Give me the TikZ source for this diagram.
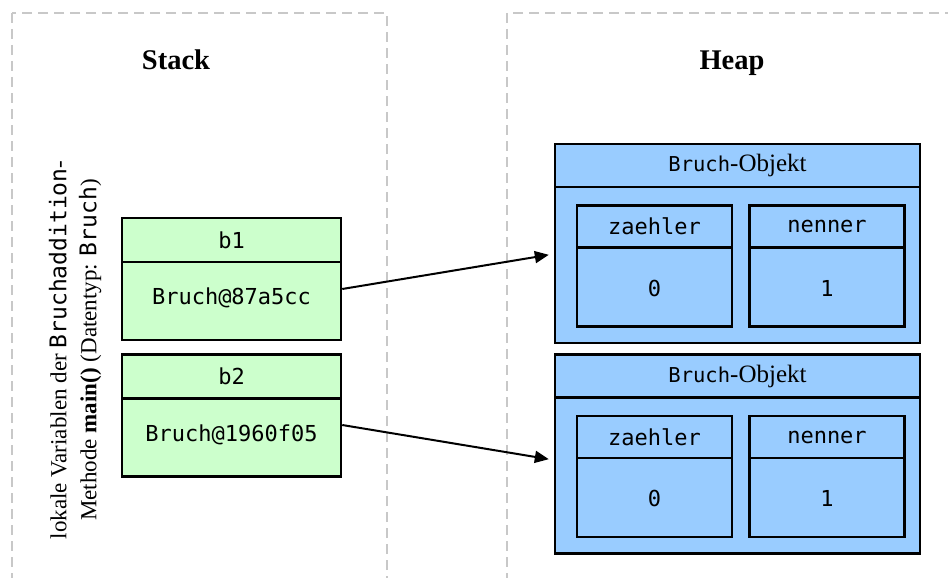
\documentclass[tikz,border=0pt]{standalone}
\usepackage{fontspec}
\setmainfont{Liberation Serif}
\setmonofont{DejaVu Sans Mono}
\usetikzlibrary{arrows.meta,positioning,calc}
\definecolor{stgreen}{HTML}{CCFFCC}
\definecolor{hpblue}{HTML}{99CCFF}
\definecolor{dashgray}{HTML}{C8C8C8}

\begin{document}
\begin{tikzpicture}[x=1pt,y=-1pt,>={Triangle[length=14pt,width=12pt]},
  cell/.style={draw=black,line width=2.5pt,inner sep=0pt},
  region/.style={draw=dashgray,line width=1.5pt,dash pattern=on 10pt off 6pt},
  txt/.style={font=\fontsize{22}{26}\selectfont},
  title/.style={font=\fontsize{28.5}{34}\selectfont\bfseries,anchor=base}]
\useasboundingbox (0,0) rectangle (948,578);
% memory regions
\draw[region] (12,13) rectangle (387,600);
\draw[region] (507,13) rectangle (960,600);
\node[title] (stacktitle) at (176,70) {Stack};
\node[title] (heaptitle) at (732,70) {Heap};
\node[rotate=90,align=center,font=\fontsize{23}{30}\selectfont] (locvars) at (75,350)
  {lokale Variablen der \texttt{Bruchaddition}-\\
   Methode \textbf{main()} (Datentyp: \texttt{Bruch})};
% reference variables on the stack
\foreach \v/\y/\addr in {b1/279/87a5cc, b2/415.5/1960f05} {
  \node[cell,fill=stgreen,minimum width=219pt,minimum height=122pt] (\v) at (231.5,\y) {};
  \node[cell,fill=stgreen,minimum width=219pt,minimum height=44pt,anchor=north,txt]
    (head\v) at (\v.north) {\texttt{\v}};
  \node[txt] (val\v) at ($(head\v.south)!.45!(\v.south)$) {\texttt{Bruch@\addr}};
}
% objects on the heap
\foreach \n/\y in {1/243.5, 2/454} {
  \node[cell,fill=hpblue,minimum width=365pt,minimum height=199pt] (obj\n) at (737.5,\y) {};
  \node[cell,fill=hpblue,minimum width=365pt,minimum height=43pt,anchor=north,
    font=\fontsize{25}{30}\selectfont]
    (objhead\n) at (obj\n.north) {{\fontsize{20.5}{30}\selectfont\ttfamily Bruch}-Objekt};
  \foreach \f/\dx/\val in {zaehler/-83/0, nenner/89.5/1} {
    \node[cell,fill=hpblue,minimum width=155pt,minimum height=121pt]
      (\f\n) at ($(obj\n)+(\dx,22.5)$) {};
    \node[cell,fill=hpblue,minimum width=155pt,minimum height=42pt,anchor=north,txt]
      (\f head\n) at (\f\n.north) {\texttt{\f}};
    \node[txt] (\f val\n) at ($(\f head\n.south)!.5!(\f\n.south)$) {\texttt{\val}};
  }
}
% references
\draw[->,line width=2pt,shorten >=5pt] ($(b1.east)+(0,10)$) -- ($(obj1.west)+(0,10.5)$);
\draw[->,line width=2pt,shorten >=5pt] ($(b2.east)+(0,9.5)$) -- ($(obj2.west)+(0,6)$);
\end{tikzpicture}
\end{document}
